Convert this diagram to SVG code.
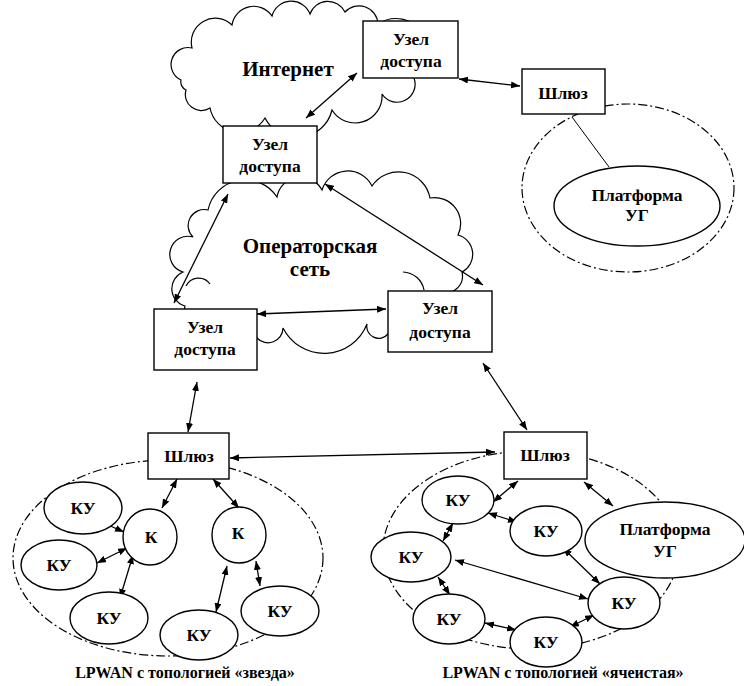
<svg xmlns="http://www.w3.org/2000/svg" width="744" height="686" viewBox="0 0 744 686">
  <style>
    .cloud { fill: #fff; stroke: #000; stroke-width: 1.2; }
    .inner { fill: none; stroke: #000; stroke-width: 1.2; }
    .box { fill: #fff; stroke: #000; stroke-width: 1.4; }
    .node { fill: #fff; stroke: #000; stroke-width: 1.4; }
    .zone { fill: none; stroke: #000; stroke-width: 1.2; stroke-dasharray: 9 3 2 3; }
    .link { stroke: #000; stroke-width: 1.3; fill: none; marker-start: url(#ah); marker-end: url(#ah); }
    .plain { stroke: #000; stroke-width: 1; fill: none; }
    text { font-family: "Liberation Serif", "Times New Roman", serif; font-weight: bold; fill: #000; text-anchor: middle; }
    .t16 { font-size: 17.5px; }
    .t20 { font-size: 21px; }
    .cap { font-size: 16px; }
  </style>
  <defs>
    <marker id="ah" viewBox="0 0 9 7" refX="9" refY="3.5" markerWidth="9" markerHeight="7" orient="auto-start-reverse" markerUnits="userSpaceOnUse">
      <path d="M0,0 L9,3.5 L0,7 z" fill="#000"/>
    </marker>
  </defs>

  <!-- clouds -->
  <g id="internet-cloud">
    <path class="cloud" d="M181,80 A17,17 0 0 1 192,48 A24,24 0 0 1 232,25 A22,22 0 0 1 272,16 A20,20 0 0 1 310,14 A19,19 0 0 1 345,12 A19,19 0 0 1 378,24 A30,30 0 0 1 414,78 A18,18 0 0 1 382,94 A27,27 0 0 1 332,110 A36,36 0 0 1 265,118 A30,30 0 0 1 210,108 A16,16 0 0 1 186,90 A9,9 0 0 1 181,80 Z"/>
    <text class="t20" x="288" y="76">Интернет</text>
  </g>
  <g id="operator-cloud">
    <path class="cloud" d="M208,210 A38,38 0 0 1 277,197 A24,24 0 0 1 322,190 A27,27 0 0 1 372,186 A32,32 0 0 1 430,198 A26,26 0 0 1 458,235 A20,20 0 0 1 462,272 A17,17 0 0 1 440,292 A34,34 0 0 1 388,334 A12,12 0 0 1 367,324 A46,46 0 0 1 283,328 A15,15 0 0 1 257,338 A40,40 0 0 1 185,306 A18,18 0 0 1 183,272 A18,18 0 0 1 193,237 A16,16 0 0 1 208,210 Z"/>
    <path class="inner" d="M403,272 A22,22 0 0 1 424,290"/>
    <path class="inner" d="M186,286 A14,14 0 0 1 210,284"/>
    <text class="t20" x="310" y="253">Операторская</text>
    <text class="t20" x="310" y="276">сеть</text>
  </g>

  <!-- LPWAN zones (dash-dot boundaries) -->
  <g id="zones">
    <ellipse class="zone" cx="628" cy="188" rx="106" ry="84"/>
    <ellipse class="zone" cx="168" cy="558" rx="155" ry="98"/>
    <ellipse class="zone" cx="531" cy="550" rx="148" ry="99"/>
  </g>

  <!-- connectors -->
  <g id="connectors">
    <line class="link" x1="306" y1="118" x2="357" y2="73"/>
    <line class="link" x1="459" y1="79" x2="520" y2="86"/>
    <line class="link" x1="228" y1="194" x2="174" y2="303"/>
    <line class="link" x1="325" y1="184" x2="483" y2="285"/>
    <line class="link" x1="257" y1="314" x2="386" y2="309"/>
    <line class="link" x1="197" y1="382" x2="188" y2="432"/>
    <line class="link" x1="483" y1="363" x2="527" y2="430"/>
    <line class="link" x1="230" y1="458" x2="495" y2="452"/>
    <line class="plain" x1="572" y1="117" x2="609" y2="167"/>
    <!-- star topology -->
    <line class="link" x1="177" y1="479" x2="162" y2="508"/>
    <line class="link" x1="213" y1="479" x2="239" y2="508"/>
    <line class="link" x1="99" y1="521" x2="124" y2="532"/>
    <line class="link" x1="97" y1="563" x2="127" y2="548"/>
    <line class="link" x1="120" y1="598" x2="133" y2="555"/>
    <line class="link" x1="227" y1="566" x2="216" y2="612"/>
    <line class="link" x1="256" y1="561" x2="260" y2="586"/>
    <!-- mesh topology -->
    <line class="link" x1="518" y1="481" x2="493" y2="502"/>
    <line class="link" x1="488" y1="513" x2="517" y2="522"/>
    <line class="link" x1="584" y1="482" x2="613" y2="506"/>
    <line class="link" x1="453" y1="523" x2="443" y2="541"/>
    <line class="link" x1="563" y1="548" x2="600" y2="584"/>
    <line class="link" x1="455" y1="560" x2="588" y2="599"/>
    <line class="link" x1="438" y1="577" x2="450" y2="595"/>
    <line class="link" x1="485" y1="623" x2="516" y2="630"/>
    <line class="link" x1="570" y1="627" x2="594" y2="615"/>
  </g>

  <!-- access nodes -->
  <g id="access-internet">
    <rect class="box" x="363" y="21" width="95" height="57"/>
    <text class="t16" x="411" y="45">Узел</text>
    <text class="t16" x="411" y="67">доступа</text>
  </g>
  <g id="access-upper">
    <rect class="box" x="223" y="126" width="94" height="57"/>
    <text class="t16" x="270" y="150">Узел</text>
    <text class="t16" x="270" y="172">доступа</text>
  </g>
  <g id="access-left">
    <rect class="box" x="154" y="309" width="103" height="61"/>
    <text class="t16" x="205" y="333">Узел</text>
    <text class="t16" x="205" y="355">доступа</text>
  </g>
  <g id="access-right">
    <rect class="box" x="388" y="291" width="104" height="61"/>
    <text class="t16" x="440" y="314">Узел</text>
    <text class="t16" x="440" y="338">доступа</text>
  </g>

  <!-- gateway with its own platform -->
  <g id="gateway-top">
    <rect class="box" x="522" y="69" width="83" height="45"/>
    <text class="t16" x="563" y="99">Шлюз</text>
  </g>
  <g id="platform-top">
    <ellipse class="node" cx="637" cy="206" rx="83" ry="40"/>
    <text class="t16" x="637" y="201">Платформа</text>
    <text class="t16" x="637" y="221">УГ</text>
  </g>

  <!-- star LPWAN -->
  <g id="gateway-star">
    <rect class="box" x="148" y="433" width="81" height="46"/>
    <text class="t16" x="189" y="462">Шлюз</text>
  </g>
  <g id="hub-1">
    <ellipse class="node" cx="150" cy="537" rx="27" ry="28"/>
    <text class="t16" x="151" y="543">К</text>
  </g>
  <g id="hub-2">
    <ellipse class="node" cx="239" cy="535" rx="27" ry="28"/>
    <text class="t16" x="238" y="539">К</text>
  </g>
  <g id="star-ku-1">
    <ellipse class="node" cx="83" cy="508" rx="39" ry="26"/>
    <text class="t16" x="83" y="514">КУ</text>
  </g>
  <g id="star-ku-2">
    <ellipse class="node" cx="59" cy="565" rx="38" ry="25"/>
    <text class="t16" x="59" y="571">КУ</text>
  </g>
  <g id="star-ku-3">
    <ellipse class="node" cx="109" cy="618" rx="39" ry="26"/>
    <text class="t16" x="109" y="624">КУ</text>
  </g>
  <g id="star-ku-4">
    <ellipse class="node" cx="199" cy="635" rx="39" ry="25"/>
    <text class="t16" x="199" y="641">КУ</text>
  </g>
  <g id="star-ku-5">
    <ellipse class="node" cx="280" cy="611" rx="39" ry="25"/>
    <text class="t16" x="280" y="617">КУ</text>
  </g>
  <text class="cap" x="185" y="678">LPWAN с топологией «звезда»</text>

  <!-- mesh LPWAN -->
  <g id="gateway-mesh">
    <rect class="box" x="504" y="432" width="83" height="47"/>
    <text class="t16" x="545" y="461">Шлюз</text>
  </g>
  <g id="mesh-ku-a">
    <ellipse class="node" cx="458" cy="500" rx="36" ry="24"/>
    <text class="t16" x="458" y="506">КУ</text>
  </g>
  <g id="mesh-ku-b">
    <ellipse class="node" cx="546" cy="531" rx="36" ry="25"/>
    <text class="t16" x="546" y="537">КУ</text>
  </g>
  <g id="platform-mesh">
    <ellipse class="node" cx="665" cy="540" rx="80" ry="38"/>
    <text class="t16" x="665" y="535">Платформа</text>
    <text class="t16" x="665" y="557">УГ</text>
  </g>
  <g id="mesh-ku-c">
    <ellipse class="node" cx="411" cy="557" rx="40" ry="25"/>
    <text class="t16" x="411" y="563">КУ</text>
  </g>
  <g id="mesh-ku-d">
    <ellipse class="node" cx="449" cy="619" rx="36" ry="25"/>
    <text class="t16" x="449" y="625">КУ</text>
  </g>
  <g id="mesh-ku-e">
    <ellipse class="node" cx="546" cy="642" rx="36" ry="25"/>
    <text class="t16" x="546" y="648">КУ</text>
  </g>
  <g id="mesh-ku-f">
    <ellipse class="node" cx="624" cy="603" rx="36" ry="26"/>
    <text class="t16" x="624" y="609">КУ</text>
  </g>
  <text class="cap" x="563" y="678">LPWAN с топологией «ячеистая»</text>
</svg>
